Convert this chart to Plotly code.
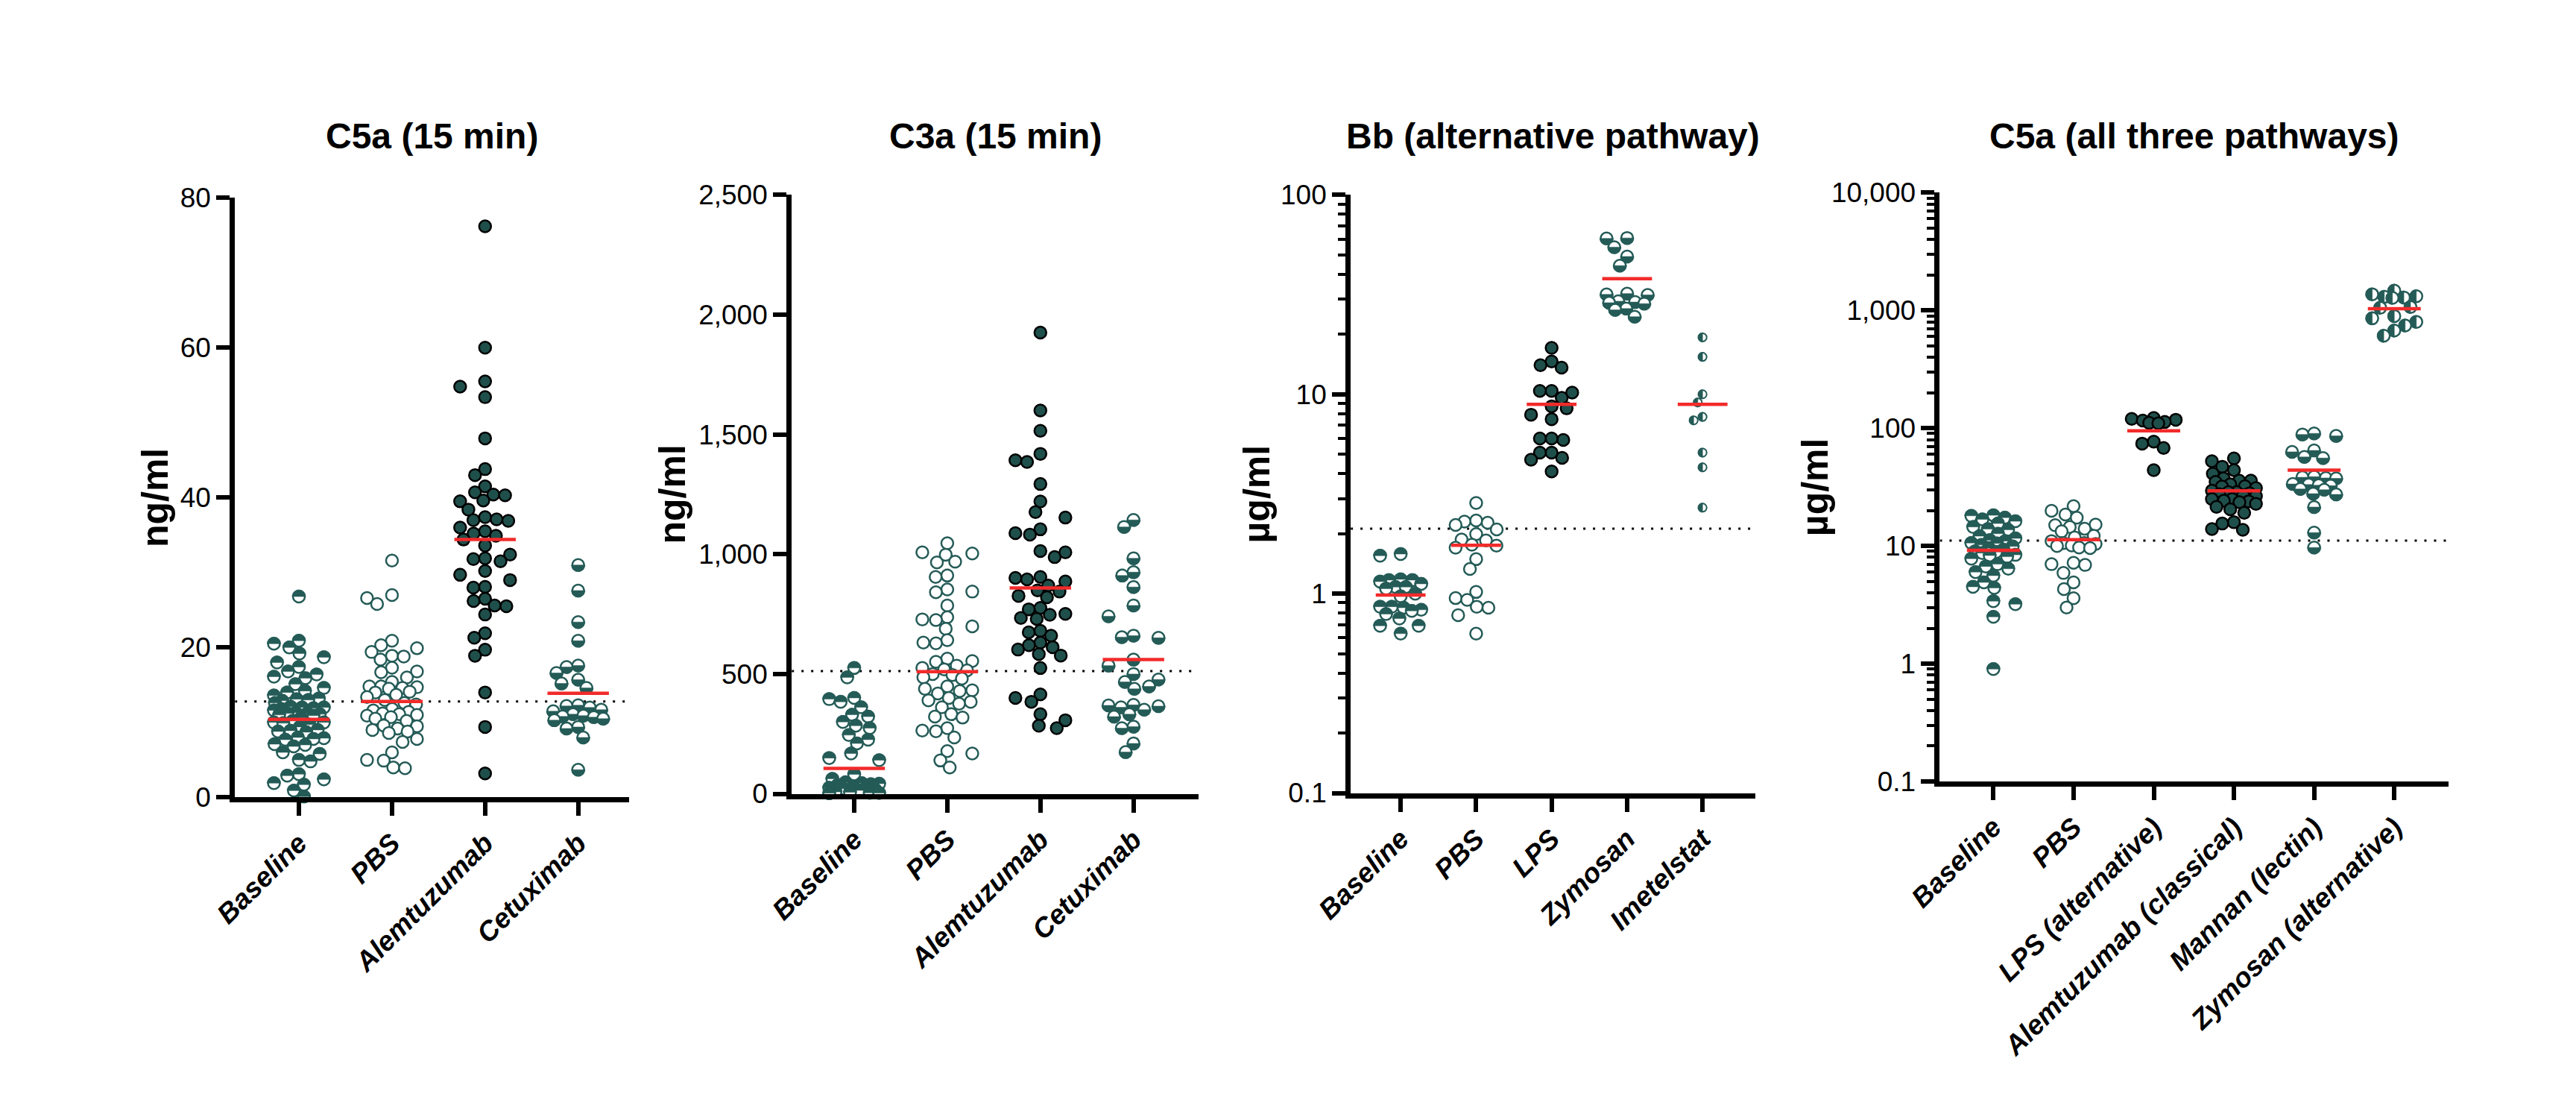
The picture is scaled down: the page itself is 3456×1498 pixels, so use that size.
import numpy as np
import plotly.graph_objects as go

# ---------------- values ----------------
# panel 1: C5a (15 min), ng/ml
c5a_groups = ['Baseline', 'PBS', 'Alemtuzumab', 'Cetuximab']
c5a_baseline = [26.8, 20.9, 20.5, 20.0, 19.2, 18.7, 18.0, 17.4, 16.8, 16.4, 16.1, 15.9, 15.1, 14.6,
                14.2, 14.0, 13.6, 13.2, 13.1, 13.0, 12.9, 12.6, 12.1, 12.0, 12.0, 11.9, 11.8, 11.6,
                11.3, 11.2, 11.2, 11.1, 11.0, 10.9, 10.6, 10.2, 10.0, 10.0, 9.9, 9.7, 9.4, 9.0, 8.9,
                8.8, 8.7, 8.0, 7.9, 7.8, 7.7, 7.1, 7.0, 6.8, 6.0, 5.8, 5.0, 4.8, 3.1, 2.9, 2.4, 1.9,
                1.7, 0.9, 0.1]
c5a_pbs = [31.6, 27.0, 26.6, 25.8, 20.9, 20.3, 19.9, 19.4, 18.9, 18.8, 18.4, 17.3, 16.8, 16.7, 16.0,
           15.4, 14.8, 14.8, 14.7, 14.6, 14.5, 14.1, 14.0, 13.7, 13.4, 13.0, 12.6, 12.4, 11.8, 11.6,
           11.4, 11.2, 11.1, 11.0, 10.9, 10.7, 10.5, 10.2, 9.6, 9.5, 9.2, 9.0, 8.8, 8.6, 7.8, 7.4,
           6.0, 5.0, 4.9, 4.0, 3.9]
c5a_alemtuzumab = [76.2, 60.0, 55.5, 54.8, 53.4, 47.9, 43.8, 43.0, 41.5, 40.7, 40.4, 40.3, 39.6, 39.5,
                   38.4, 37.4, 37.1, 37.0, 36.9, 36.0, 35.5, 35.2, 34.9, 34.4, 33.6, 32.4, 31.9, 31.8,
                   31.5, 30.2, 29.7, 29.0, 28.1, 28.0, 26.5, 26.2, 25.6, 25.5, 24.4, 21.9, 21.3, 19.7,
                   18.9, 14.0, 9.4, 3.2]
c5a_cetuximab = [31.0, 27.6, 23.4, 20.9, 17.6, 17.4, 16.6, 15.7, 15.2, 14.6, 12.3, 12.2, 12.0, 11.7,
                 11.5, 11.1, 10.9, 10.8, 10.7, 10.5, 10.3, 9.4, 9.2, 8.0, 3.7]
c5a_lines = [10.4, 12.8, 34.4, 13.9]
c5a_cutoff = 12.8

# panel 2: C3a (15 min), ng/ml
c3a_groups = ['Baseline', 'PBS', 'Alemtuzumab', 'Cetuximab']
c3a_baseline = [525, 486, 400, 395, 384, 361, 330, 322, 300, 284, 274, 245, 226, 210, 168, 149, 140,
                81, 62, 48, 44, 42, 40, 36, 30, 25, 23, 21, 18, 14, 8, 6, 4, 3, 2]
c3a_pbs = [1046, 1008, 1003, 998, 969, 966, 911, 905, 853, 844, 841, 786, 737, 728, 725, 699, 689,
           641, 631, 628, 564, 554, 551, 535, 525, 519, 515, 500, 496, 486, 481, 448, 438, 432, 429,
           419, 400, 390, 384, 376, 361, 332, 322, 318, 274, 264, 261, 235, 178, 168, 139, 110]
c3a_alemtuzumab = [1925, 1600, 1515, 1419, 1392, 1385, 1293, 1220, 1176, 1153, 1104, 1088, 1082, 1013,
                   1008, 988, 905, 901, 895, 886, 869, 849, 844, 826, 820, 776, 770, 751, 747, 734,
                   730, 680, 674, 660, 631, 620, 612, 602, 583, 577, 525, 415, 400, 384, 332, 307,
                   284, 274]
c3a_cetuximab = [1143, 1114, 983, 925, 911, 863, 786, 741, 660, 654, 651, 560, 535, 500, 477, 467, 448,
                 438, 371, 369, 366, 361, 351, 332, 322, 280, 274, 210, 174]
c3a_lines = [106, 510, 859, 560]
c3a_cutoff = 512

# panel 3: Bb (alternative pathway), ug/ml
bb_groups = ['Baseline', 'PBS', 'LPS', 'Zymosan', 'Imetelstat']
bb_baseline = [1.58, 1.55, 1.18, 1.17, 1.17, 1.15, 1.12, 1.08, 1.08, 1.06, 1.0, 0.97, 0.86, 0.86,
               0.85, 0.83, 0.82, 0.79, 0.75, 0.69, 0.69, 0.63]
bb_pbs = [2.85, 2.33, 2.30, 2.27, 2.21, 2.10, 1.99, 1.87, 1.85, 1.76, 1.74, 1.70, 1.49, 1.33, 1.02,
          0.95, 0.93, 0.86, 0.85, 0.78, 0.63]
bb_lps = [17.1, 14.6, 14.0, 13.6, 10.4, 10.4, 10.2, 9.6, 8.7, 8.5, 7.9, 7.5, 6.0, 6.0, 5.9, 5.1, 5.1,
          4.8, 4.7, 4.1]
bb_zymosan = [60.8, 60.5, 54.7, 49.1, 44.2, 32.0, 31.7, 31.5, 29.3, 29.0, 28.8, 28.5, 26.9, 26.5, 24.5]
bb_imetelstat = [19.3, 15.4, 10.0, 9.1, 7.7, 7.4, 5.1, 4.3, 2.7]
bb_lines = [0.985, 1.75, 8.9, 38.0, 8.9]
bb_cutoff = 2.12

# panel 4: C5a (all three pathways), ug/ml
c5a3_groups = ['Baseline', 'PBS', 'LPS (alternative)', 'Alemtuzumab (classical)',
               'Mannan (lectin)', 'Zymosan (alternative)']
c5a3_baseline = [18.2, 18.0, 17.4, 16.8, 16.2, 15.5, 14.5, 13.9, 13.7, 12.7, 12.1, 11.6, 11.2, 11.0,
                 10.6, 10.5, 10.2, 9.9, 9.6, 9.3, 9.0, 8.9, 8.7, 8.4, 8.3, 8.1, 7.8, 7.0, 6.7, 6.4,
                 6.0, 5.6, 4.9, 4.5, 4.4, 3.4, 3.2, 2.5, 0.9]
c5a3_pbs = [21.8, 19.9, 18.5, 17.4, 15.2, 15.0, 14.5, 14.0, 13.3, 12.2, 11.8, 11.0, 10.6, 10.6, 10.4,
            10.1, 10.0, 9.7, 9.6, 7.2, 7.0, 6.9, 5.9, 4.9, 4.3, 3.6, 3.0]
c5a3_lps = [122, 120, 118, 116, 113, 111, 110, 77, 74, 68, 44]
c5a3_alemtuzumab = [55.4, 52.5, 47.1, 44.0, 41.1, 37.5, 35.9, 35.9, 35.0, 33.4, 32.2, 32.0, 31.0, 29.5,
                    28.6, 28.6, 28.0, 27.5, 26.9, 26.5, 25.0, 25.0, 24.2, 23.9, 23.5, 22.8, 21.5, 20.5,
                    19.1, 15.9, 15.5, 13.9, 13.7]
c5a3_mannan = [90.4, 88.5, 86.0, 64.7, 63.0, 57.0, 55.8, 38.8, 38.3, 37.8, 37.5, 33.6, 33.2, 32.8,
               32.5, 30.5, 30.0, 27.8, 27.4, 21.4, 13.0, 9.7]
c5a3_zymosan = [1472, 1372, 1320, 1305, 1290, 1280, 1070, 1055, 896, 858, 800, 745, 675, 610]
c5a3_lines = [9.2, 11.3, 95, 29.4, 44, 1035]
c5a3_cutoff = 11.1

# ---------------- look ----------------
TEAL = '#245b57'
DARK = '#1f4f4b'
RED = '#f22b2b'
FONT = 'Liberation Sans'

OFF = 8                      # body margin of the html page
W, H = 3456 - 2 * OFF, 1498 - 2 * OFF

def log_ticks(lo, hi):
    vals = [10.0 ** k for k in range(lo, hi + 1)]
    minor = [m * 10.0 ** k for k in range(lo, hi) for m in range(2, 10)]
    return vals, minor

panels = [
    dict(title='C5a (15 min)', ylab='ng/ml', groups=c5a_groups,
         data=[c5a_baseline, c5a_pbs, c5a_alemtuzumab, c5a_cetuximab],
         style=['top', 'open', 'full', 'bottom'], lines=c5a_lines, cutoff=c5a_cutoff,
         box=(269, 806, 252, 1079), xr=(-0.687, 3.55), log=False, yr=(0, 80),
         tickvals=[0, 20, 40, 60, 80], ticktext=['0', '20', '40', '60', '80'], ylabx=161, spread=34),
    dict(title='C3a (15 min)', ylab='ng/ml', groups=c3a_groups,
         data=[c3a_baseline, c3a_pbs, c3a_alemtuzumab, c3a_cetuximab],
         style=['top', 'open', 'full', 'bottom'], lines=c3a_lines, cutoff=c3a_cutoff,
         box=(1027, 1581, 248, 1074), xr=(-0.671, 3.70), log=False, yr=(0, 2500),
         tickvals=[0, 500, 1000, 1500, 2000, 2500],
         ticktext=['0', '500', '1,000', '1,500', '2,000', '2,500'], ylabx=864, spread=34),
    dict(title='Bb (alternative pathway)', ylab='\u00b5g/ml', groups=bb_groups,
         data=[bb_baseline, bb_pbs, bb_lps, bb_zymosan, bb_imetelstat],
         style=['top', 'open', 'full', 'bottom', 'left'], lines=bb_lines, cutoff=bb_cutoff,
         box=(1788, 2339, 248, 1073), xr=(-0.662, 4.70), log=True, yr=(-1, 2),
         ticktext=['0.1', '1', '10', '100'], ylabx=1660, spread=28),
    dict(title='C5a (all three pathways)', ylab='\u00b5g/ml', groups=c5a3_groups,
         data=[c5a3_baseline, c5a3_pbs, c5a3_lps, c5a3_alemtuzumab, c5a3_mannan, c5a3_zymosan],
         style=['top', 'open', 'full', 'full', 'bottom', 'left'], lines=c5a3_lines,
         cutoff=c5a3_cutoff, box=(2590, 3283, 245, 1057), xr=(-0.668, 5.68), log=True,
         yr=(-1, 4), ticktext=['0.1', '1', '10', '100', '1,000', '10,000'], ylabx=2420, spread=30),
]


def to_px(vals, p):
    t, b = p['box'][2], p['box'][3]
    lo, hi = p['yr']
    u = np.log10(vals) if p['log'] else np.asarray(vals, float)
    return b - (u - lo) / (hi - lo) * (b - t)


def from_px(ypx, p):
    t, b = p['box'][2], p['box'][3]
    lo, hi = p['yr']
    u = lo + (b - np.asarray(ypx, float)) / (b - t) * (hi - lo)
    return 10.0 ** u if p['log'] else u


def swarm(ypx, d, maxoff):
    """deterministic beeswarm: x offsets (pixels) for points at pixel heights ypx"""
    xs, ys = [], []
    off = np.zeros(len(ypx))
    for i in np.argsort(ypx):
        y = ypx[i]
        cands = [0.0]
        for xj, yj in zip(xs, ys):
            dy = abs(y - yj)
            if dy < d:
                dx = np.sqrt(d * d - dy * dy)
                cands += [xj - dx, xj + dx]
        cands = sorted(set(round(c, 3) for c in cands), key=lambda c: (abs(c), c))
        best = None
        for c in cands:
            if abs(c) > maxoff:
                continue
            if all((c - xj) ** 2 + (y - yj) ** 2 >= d * d - 1e-6 for xj, yj in zip(xs, ys)):
                best = c
                break
        if best is None:
            grid = np.linspace(-maxoff, maxoff, 49)
            score = [min([(g - xj) ** 2 + (y - yj) ** 2 for xj, yj in zip(xs, ys)] + [1e9])
                     for g in grid]
            best = grid[int(np.argmax(score))]
        off[i] = best
        xs.append(best)
        ys.append(y)
    return off


def draw_layers(xpx, ypx, d):
    """later points sit on top of earlier overlapping ones"""
    lay = []
    for i in range(len(xpx)):
        l = 0
        for j in range(i):
            if (xpx[i] - xpx[j]) ** 2 + (ypx[i] - ypx[j]) ** 2 < d * d and lay[j] >= l:
                l = lay[j] + 1
        lay.append(l)
    return np.array(lay)


HALF = {'top': (0, np.pi), 'bottom': (np.pi, 2 * np.pi), 'left': (np.pi / 2, 1.5 * np.pi)}

def half_disks(xc, ypx, p, ppc, rad, side):
    """teal half of each dot, as closed polygons in data units"""
    a = np.linspace(HALF[side][0], HALF[side][1], 21)
    hx, hy = [], []
    for x0, y0 in zip(xc, ypx):
        px = x0 + rad * np.cos(a) / ppc
        py = from_px(y0 - rad * np.sin(a), p)
        hx += list(px) + [px[0], None]
        hy += list(py) + [py[0], None]
    return hx, hy


fig = go.Figure()
annotations = []

for n, p in enumerate(panels, start=1):
    xa, ya = 'x%d' % n, 'y%d' % n
    l, r, t, b = p['box']
    ppc = (r - l) / (p['xr'][1] - p['xr'][0])          # pixels per category

    # dotted reference line (under the dots)
    fig.add_trace(go.Scatter(x=list(p['xr']), y=[p['cutoff']] * 2, mode='lines',
                             line=dict(color='black', width=3, dash='3px,10px'),
                             hoverinfo='skip', xaxis=xa, yaxis=ya))

    for g, (vals, st) in enumerate(zip(p['data'], p['style'])):
        small = (p['groups'][g] == 'Imetelstat')
        msize, lw = (11, 2.0) if small else (16, 2.5)
        d = 13 if small else 16
        vals = np.array(sorted(vals, reverse=True), float)
        ypx = to_px(vals, p)
        xoff = swarm(ypx, d, p['spread'])
        xs = g + xoff / ppc
        if st in ('open', 'full'):
            fig.add_trace(go.Scatter(
                x=xs, y=vals, mode='markers', cliponaxis=False, xaxis=xa, yaxis=ya,
                marker=dict(size=msize, color=DARK if st == 'full' else 'white',
                            line=dict(color='black' if st == 'full' else TEAL, width=lw))))
        else:
            lay = draw_layers(xoff, ypx, msize + lw)
            for k in range(lay.max() + 1):
                sel = lay == k
                fig.add_trace(go.Scatter(
                    x=xs[sel], y=vals[sel], mode='markers', cliponaxis=False,
                    xaxis=xa, yaxis=ya, hoverinfo='skip',
                    marker=dict(size=msize, color='white', line=dict(color=TEAL, width=lw))))
                hx, hy = half_disks(xs[sel], ypx[sel], p, ppc, msize / 2 + lw / 2, st)
                fig.add_trace(go.Scatter(
                    x=hx, y=hy, mode='lines', fill='toself', fillcolor=TEAL,
                    line=dict(color=TEAL, width=0.5), hoverinfo='skip', xaxis=xa, yaxis=ya))

    # red mean lines
    lx, ly = [], []
    for g, m in enumerate(p['lines']):
        lx += [g - 0.33, g + 0.33, None]
        ly += [m, m, None]
    fig.add_trace(go.Scatter(x=lx, y=ly, mode='lines', line=dict(color=RED, width=4.5),
                             hoverinfo='skip', xaxis=xa, yaxis=ya))

    xdom = [(l - OFF) / W, (r - OFF) / W]
    ydom = [1 - (b - OFF) / H, 1 - (t - OFF) / H]
    axis_common = dict(showline=True, linewidth=7, linecolor='black', showgrid=False,
                       zeroline=False, ticks='outside', ticklen=18, tickwidth=6,
                       tickcolor='black')
    fig.layout['xaxis%d' % n] = dict(
        axis_common, domain=xdom, range=list(p['xr']), anchor=ya,
        tickmode='array', tickvals=list(range(len(p['groups']))), ticktext=p['groups'],
        tickangle=-45,
        tickfont=dict(family=FONT, size=37, color='black', weight='bold', style='italic'))
    if p['log']:
        tv, minor = log_ticks(int(p['yr'][0]), int(p['yr'][1]))
        fig.layout['yaxis%d' % n] = dict(
            axis_common, domain=ydom, type='log', range=list(p['yr']), anchor=xa,
            tickmode='array', tickvals=tv, ticktext=p['ticktext'],
            minor=dict(tickmode='array', tickvals=minor, ticks='outside', ticklen=10,
                       tickwidth=4, tickcolor='black', showgrid=False),
            tickfont=dict(family=FONT, size=37, color='black'))
    else:
        fig.layout['yaxis%d' % n] = dict(
            axis_common, domain=ydom, range=list(p['yr']), anchor=xa,
            tickmode='array', tickvals=p['tickvals'], ticktext=p['ticktext'],
            tickfont=dict(family=FONT, size=37, color='black'))

    annotations.append(dict(xref='paper', yref='paper', x=((l + r) / 2 - OFF) / W,
                            y=1 - (167 - OFF) / H, text=p['title'], showarrow=False,
                            xanchor='center', yanchor='middle',
                            font=dict(family=FONT, size=48, color='black', weight='bold')))
    annotations.append(dict(xref='paper', yref='paper', x=(p['ylabx'] - OFF) / W,
                            y=1 - ((t + b) / 2 - OFF) / H, text=p['ylab'], showarrow=False,
                            textangle=-90, xanchor='center', yanchor='middle',
                            font=dict(family=FONT, size=50, color='black', weight='bold')))

fig.update_layout(width=W, height=H, margin=dict(l=0, r=0, t=0, b=0),
                  paper_bgcolor='white', plot_bgcolor='white', showlegend=False,
                  annotations=annotations)

fig.write_html('out.html')
